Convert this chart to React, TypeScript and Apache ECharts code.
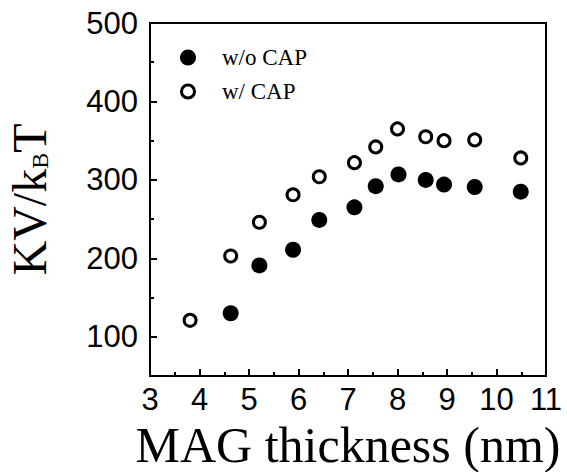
import React, { useEffect, useRef } from "react";
import * as echarts from "echarts";

const withCapX = [3.81, 4.63, 5.21, 5.89, 6.42, 7.13, 7.56, 8.0, 8.57, 8.94, 9.56, 10.49];
const withCapY = [121, 203, 246, 281, 304, 322, 342, 365, 355, 350, 351, 328];
const noCapX = [4.63, 5.21, 5.89, 6.42, 7.13, 7.56, 8.02, 8.57, 8.94, 9.56, 10.49];
const noCapY = [130, 191, 211, 249, 265, 292, 307, 300, 294, 291, 285];
const yMajorTicks = [100, 200, 300, 400, 500];
const yMinorTicks = [150, 250, 350, 450];
const seriesNames = ["w/o CAP", "w/ CAP"];

const RING = "path://M8,0A8,8,0,1,1,8,16A8,8,0,1,1,8,0ZM8,3A5,5,0,1,0,8,13A5,5,0,1,0,8,3Z";

export default function App() {
  const ref = useRef<HTMLDivElement>(null);
  useEffect(() => {
    if (!ref.current) return;
    const chart = echarts.init(ref.current, null, { renderer: "svg" });
    const sans = "'Liberation Sans', Arial, sans-serif";
    const serif = "'Liberation Serif', 'Times New Roman', serif";
    chart.setOption({
      animation: false,
      backgroundColor: "#fff",
      grid: {
        left: 150,
        right: 21,
        top: 23,
        bottom: 96,
        outerBoundsMode: "none",
        containLabel: false,
        show: true,
        borderColor: "#000",
        borderWidth: 2,
        backgroundColor: "transparent",
      },
      legend: {
        orient: "vertical",
        left: 180,
        top: 46,
        padding: 0,
        itemWidth: 16,
        itemHeight: 16,
        itemGap: 11,
        textStyle: {
          fontFamily: serif,
          fontSize: 23,
          color: "#000",
          lineHeight: 16,
          padding: [0, 0, 0, 21],
        },
        data: [
          { name: seriesNames[0], icon: "circle", itemStyle: { color: "#000", borderWidth: 0 } },
          { name: seriesNames[1], icon: RING, itemStyle: { color: "#000", borderWidth: 0 } },
        ],
      },
      xAxis: {
        type: "value",
        min: 3,
        max: 11,
        interval: 1,
        name: "MAG thickness (nm)",
        nameLocation: "middle",
        nameGap: 42,
        nameTextStyle: { fontFamily: serif, fontSize: 50, color: "#000", lineHeight: 50 },
        axisLine: { show: true, lineStyle: { color: "#000", width: 2 } },
        axisTick: { show: true, inside: true, length: 7, lineStyle: { color: "#000", width: 2 } },
        minorTick: { show: true, splitNumber: 2, length: 4, lineStyle: { color: "#000", width: 2 } },
        axisLabel: {
          fontFamily: sans,
          fontSize: 31,
          color: "#000",
          margin: 8,
          showMinLabel: true,
          showMaxLabel: true,
        },
        splitLine: { show: false },
      },
      yAxis: [
        {
          type: "value",
          min: 50,
          max: 500,
          interval: 50,
          name: "{a|KV/k}{b|B}{a|T}",
          nameLocation: "middle",
          nameGap: 95,
          nameTextStyle: {
            rich: {
              a: { fontFamily: serif, fontSize: 48, color: "#000", lineHeight: 50, verticalAlign: "top" },
              b: {
                fontFamily: serif,
                fontSize: 24,
                color: "#000",
                lineHeight: 24,
                verticalAlign: "top",
                padding: [23, 0, 0, 0],
              },
            },
          },
          axisLine: { show: true, lineStyle: { color: "#000", width: 2 } },
          axisTick: {
            show: true,
            inside: true,
            length: 7,
            customValues: yMajorTicks,
            lineStyle: { color: "#000", width: 2 },
          },
          axisLabel: {
            fontFamily: sans,
            fontSize: 31,
            color: "#000",
            margin: 12,
            customValues: yMajorTicks,
          },
          splitLine: { show: false },
        },
        {
          type: "value",
          min: 50,
          max: 500,
          interval: 50,
          position: "left",
          axisLine: { show: false },
          axisTick: {
            show: true,
            inside: true,
            length: 4,
            customValues: yMinorTicks,
            lineStyle: { color: "#000", width: 2 },
          },
          axisLabel: { show: false },
          splitLine: { show: false },
        },
      ],
      series: [
        {
          name: seriesNames[0],
          type: "scatter",
          symbol: "circle",
          symbolSize: 16,
          itemStyle: { color: "#000", opacity: 1 },
          data: noCapX.map((x, i) => [x, noCapY[i]]),
        },
        {
          name: seriesNames[1],
          type: "scatter",
          symbol: "circle",
          symbolSize: 12,
          itemStyle: { color: "#fff", borderColor: "#000", borderWidth: 3, opacity: 1 },
          data: withCapX.map((x, i) => [x, withCapY[i]]),
        },
      ],
    });
    return () => chart.dispose();
  }, []);
  return (
    <div
      ref={ref}
      style={{ position: "fixed", left: 0, top: 0, width: 567, height: 472 }}
    />
  );
}
